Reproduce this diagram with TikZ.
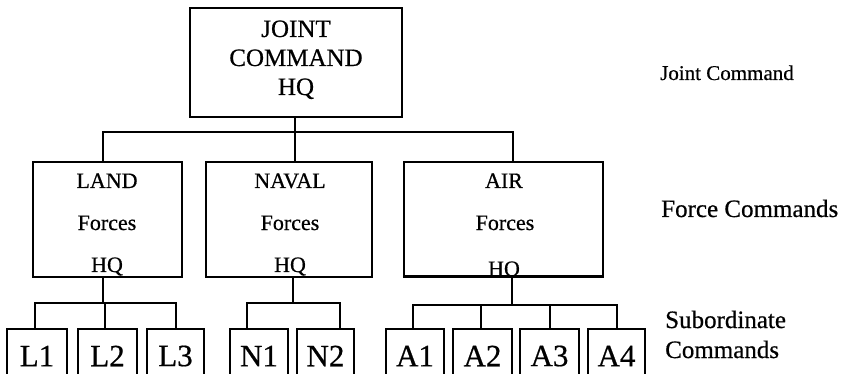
\documentclass[tikz,border=0pt]{standalone}
\usepackage{fontspec}
\setmainfont[FakeBold=0.6]{Liberation Serif}
\begin{document}
\begin{tikzpicture}[x=1pt,y=-1pt,
  box/.style={draw, line width=2.4pt, rectangle, inner sep=0pt},
  subbox/.style={box, minimum height=54pt, font=\fontsize{31}{31}\selectfont},
  conn/.style={line width=2pt},
  toptxt/.style={anchor=base, inner sep=0pt, font=\fontsize{25}{25}\selectfont},
  midtxt/.style={anchor=base, inner sep=0pt, font=\fontsize{22}{22}\selectfont},
  side/.style={anchor=base west, inner sep=0pt, font=\fontsize{25}{25}\selectfont}]
\useasboundingbox (0,0) rectangle (846,374);
% top
\node[box, minimum width=212pt, minimum height=109pt] (top) at (296,62.5) {};
\node[toptxt] (t1) at (296,37) {JOINT};
\node[toptxt] (t2) at (296,66) {COMMAND};
\node[toptxt] (t3) at (296,95) {HQ};
% force boxes
\node[box, minimum width=149pt, minimum height=115pt] (land) at (107.5,219.5) {};
\node[box, minimum width=166pt, minimum height=115pt] (naval) at (289,219.5) {};
\node[box, minimum width=199pt, minimum height=114pt] (air) at (503.5,219) {};
\node[midtxt] (la1) at (107,188) {LAND};
\node[midtxt] (la2) at (107,230) {Forces};
\node[midtxt] (la3) at (107,272) {HQ};
\node[midtxt] (na1) at (290,188) {NAVAL};
\node[midtxt] (na2) at (290,230) {Forces};
\node[midtxt] (na3) at (290,272) {HQ};
\node[midtxt] (ai1) at (504,188) {AIR};
\node[midtxt] (ai2) at (505,230) {Forces};
\begin{scope}
  \clip (air.north west) rectangle (air.south east);
  \node[midtxt] (ai3) at (504,276) {HQ};
\end{scope}
\draw[line width=2.4pt] (air.south west) -- (air.south east);
% subordinate boxes
\node[subbox, minimum width=60pt] (L1) at (37,356) {L1};
\node[subbox, minimum width=59pt] (L2) at (107.5,356) {L2};
\node[subbox, minimum width=57pt] (L3) at (175.5,356) {L3};
\node[subbox, minimum width=58pt] (N1) at (259,356) {N1};
\node[subbox, minimum width=57pt] (N2) at (325.5,356) {N2};
\node[subbox, minimum width=58pt] (A1) at (415,356) {A1};
\node[subbox, minimum width=59pt] (A2) at (482.5,356) {A2};
\node[subbox, minimum width=59pt] (A3) at (549.5,356) {A3};
\node[subbox, minimum width=57pt] (A4) at (616.5,356) {A4};
% top connectors
\coordinate (jc) at (295,132);
\coordinate (jl) at (103,132);
\coordinate (jr) at (513,132);
\draw[conn] (top.south -| jc) -- (naval.north -| jc);
\draw[conn] (land.north -| jl) -- (jl) -- (jr) -- (air.north -| jr);
% land hub
\coordinate (lh) at (103,303);
\coordinate (la) at (35,303);
\coordinate (lb) at (105,303);
\coordinate (lc) at (176,303);
\draw[conn] (land.south -| lh) -- (lh);
\draw[conn] (L1.north -| la) -- (la) -- (lc) -- (L3.north -| lc);
\draw[conn] (lb) -- (L2.north -| lb);
% naval hub
\coordinate (nh) at (293,303);
\coordinate (na) at (247,303);
\coordinate (nb) at (340,303);
\draw[conn] (naval.south -| nh) -- (nh);
\draw[conn] (N1.north -| na) -- (na) -- (nb) -- (N2.north -| nb);
% air hub
\coordinate (ah) at (512,305);
\coordinate (aa) at (413,305);
\coordinate (ab) at (481,305);
\coordinate (ac) at (550,305);
\coordinate (ad) at (617,305);
\draw[conn] (air.south -| ah) -- (ah);
\draw[conn] (A1.north -| aa) -- (aa) -- (ad) -- (A4.north -| ad);
\draw[conn] (ab) -- (A2.north -| ab);
\draw[conn] (ac) -- (A3.north -| ac);
% side labels
\node[side, font=\fontsize{21}{21}\selectfont] (s1) at (660,80) {Joint Command};
\node[side] (s2) at (661,217) {Force Commands};
\node[side] (s3) at (665,328) {Subordinate};
\node[side] (s4) at (665,358) {Commands};
\end{tikzpicture}
\end{document}
